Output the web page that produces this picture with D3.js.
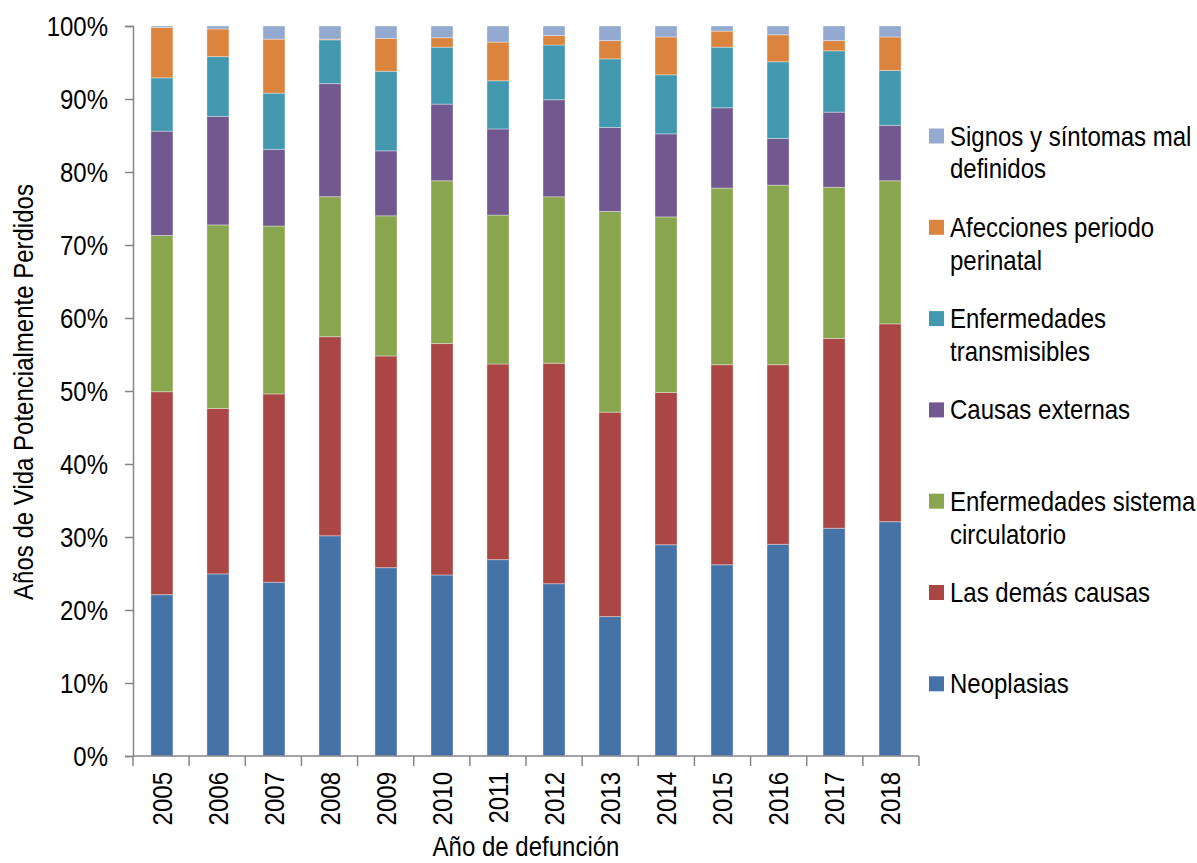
<!DOCTYPE html>
<html><head><meta charset="utf-8">
<script src="https://cdn.jsdelivr.net/npm/d3@7"></script>
<style>
body{margin:0;background:#fff;}
text{font-family:"Liberation Sans",Arial,sans-serif;fill:#000;}
</style></head>
<body>
<svg id="chart" width="1197" height="863"></svg>
<script>
const years = ["2005","2006","2007","2008","2009","2010","2011","2012","2013","2014","2015","2016","2017","2018"];
const neoplasias = [22.1,25.0,23.8,30.2,25.8,24.8,26.9,23.6,19.1,29.0,26.2,29.0,31.2,32.1];
const demasCausas = [27.8,22.7,25.8,27.3,29.0,31.7,26.8,30.2,28.0,20.9,27.4,24.6,26.0,27.1];
const circulatorio = [21.4,25.2,23.0,19.2,19.2,22.3,20.4,22.8,27.5,24.1,24.2,24.6,20.7,19.6];
const externas = [14.3,14.9,10.5,15.5,8.9,10.5,11.8,13.3,11.5,11.4,11.0,6.4,10.3,7.6];
const transmisibles = [7.3,8.2,7.7,6.0,10.9,7.8,6.6,7.5,9.4,8.1,8.3,10.5,8.4,7.5];
const perinatal = [6.9,3.8,7.4,0.1,4.5,1.3,5.3,1.3,2.5,5.2,2.2,3.7,1.4,4.6];
const signos = [0.2,0.4,1.8,1.8,1.7,1.6,2.2,1.3,2.0,1.5,0.7,1.2,2.0,1.5];
const yTicks = [0,0.1,0.2,0.3,0.4,0.5,0.6,0.7,0.8,0.9,1.0];

const series = [
  {key:"neo", name:["Neoplasias"], values:neoplasias, color:"#4572A7"},
  {key:"dem", name:["Las demás causas"], values:demasCausas, color:"#AA4643"},
  {key:"cir", name:["Enfermedades sistema","circulatorio"], values:circulatorio, color:"#89A54E"},
  {key:"ext", name:["Causas externas"], values:externas, color:"#71588F"},
  {key:"tra", name:["Enfermedades","transmisibles"], values:transmisibles, color:"#4198AF"},
  {key:"per", name:["Afecciones periodo","perinatal"], values:perinatal, color:"#DB843D"},
  {key:"sig", name:["Signos y síntomas mal","definidos"], values:signos, color:"#93A9CF"}
];

const table = years.map((yr,i)=>{const r={year:yr}; series.forEach(s=>r[s.key]=s.values[i]); return r;});
const stacked = d3.stack().keys(series.map(s=>s.key)).offset(d3.stackOffsetExpand)(table);

const svg = d3.select("#chart");
const mLeft=133, mRight=919, mTop=26, mBottom=756;
const SY = 1.15; // vertical glyph stretch of the original text
const x = d3.scaleBand().domain(years).range([mLeft,mRight]).paddingInner(0.607).paddingOuter(0.32);
const y = d3.scaleLinear().domain([0,1]).range([mBottom,mTop]);
const axisColor="#868686";

// bars
svg.append("g").selectAll("g").data(stacked).join("g")
  .attr("fill",(d,i)=>series[i].color)
  .selectAll("rect").data(d=>d).join("rect")
  .attr("x",d=>x(d.data.year))
  .attr("width",x.bandwidth())
  .attr("y",d=>y(d[1]))
  .attr("height",d=>y(d[0])-y(d[1]))
  .attr("stroke","#fff").attr("stroke-opacity",0.35).attr("stroke-width",1);

// y axis
const ya = svg.append("g").attr("transform",`translate(${mLeft},0)`)
  .call(d3.axisLeft(y).tickValues(yTicks).tickFormat(d3.format(".0%")).tickSize(8).tickPadding(17));
ya.select(".domain").attr("stroke",axisColor).attr("stroke-width",1.5);
ya.selectAll(".tick line").attr("stroke",axisColor).attr("stroke-width",1.5);
ya.selectAll(".tick text").style("font-size","24px").attr("dy","0.36em").attr("transform",`scale(1,${SY})`);

// x axis
const xa = svg.append("g").attr("transform",`translate(0,${mBottom})`);
xa.append("line").attr("x1",mLeft).attr("x2",mRight).attr("stroke",axisColor).attr("stroke-width",1.5);
const step = (mRight-mLeft)/years.length;
xa.selectAll("line.tk").data(d3.range(years.length+1)).join("line").attr("class","tk")
  .attr("x1",i=>mLeft+i*step).attr("x2",i=>mLeft+i*step).attr("y1",0).attr("y2",10)
  .attr("stroke",axisColor).attr("stroke-width",1.5);
xa.selectAll("text").data(years).join("text")
  .attr("transform",d=>`translate(${x(d)+x.bandwidth()/2+10},16) rotate(-90) scale(1,${SY})`)
  .attr("text-anchor","end").style("font-size","24px").text(d=>d);

// axis titles
svg.append("text").attr("transform",`translate(526,856) scale(1,${SY})`).attr("text-anchor","middle").style("font-size","24px").text("Año de defunción");
svg.append("text").attr("transform",`translate(33,392) rotate(-90) scale(1,${SY})`).attr("text-anchor","middle").style("font-size","24px").text("Años de Vida Potencialmente Perdidos");

// legend
const legendOrder = series.slice().reverse();
const lg = svg.append("g");
legendOrder.forEach((s,i)=>{
  const cy = 136 + i*91.3;
  lg.append("rect").attr("x",929).attr("y",cy-7.5).attr("width",15).attr("height",15).attr("fill",s.color);
  const t = lg.append("text").attr("transform",`translate(950,${cy+9.5}) scale(1,${SY})`).style("font-size","24px");
  s.name.forEach((line,j)=>t.append("tspan").attr("x",0).attr("dy",j===0?0:33/SY).text(line));
});
</script>
</body></html>
